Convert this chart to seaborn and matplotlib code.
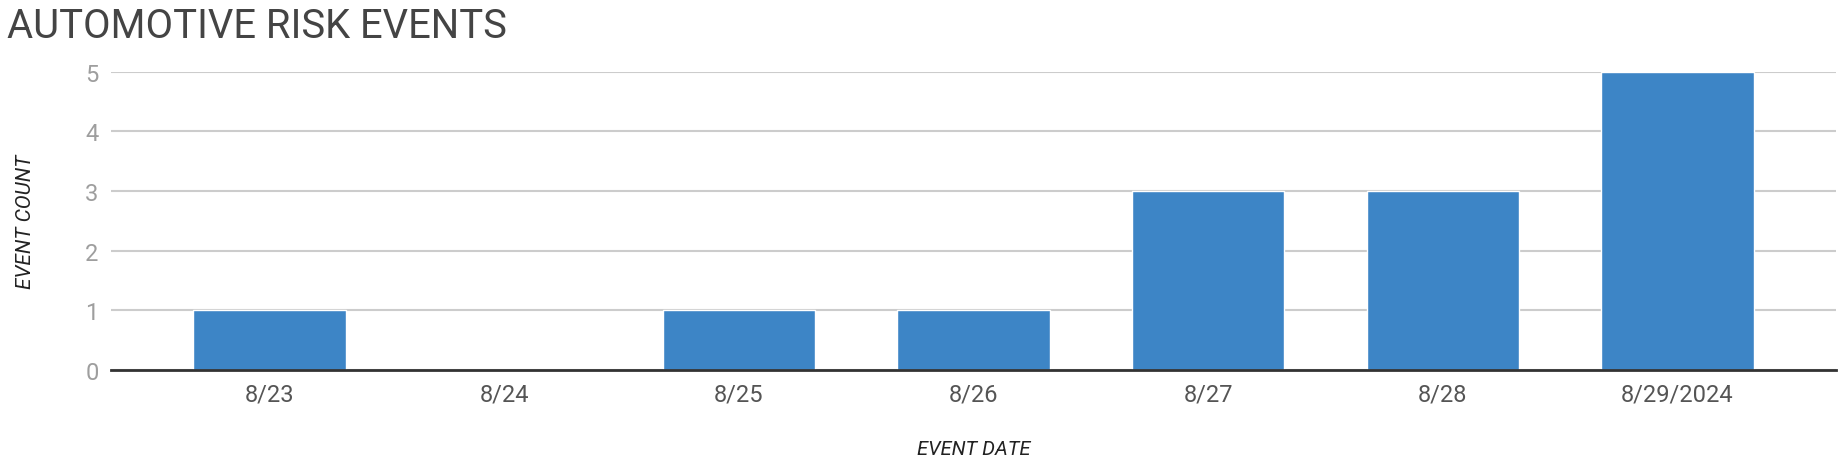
import matplotlib
matplotlib.use("Agg")
import matplotlib.pyplot as plt
import seaborn as sns
import pandas as pd

# chart data
event_dates = ['8/23', '8/24', '8/25', '8/26', '8/27', '8/28', '8/29/2024']
event_counts = [1, 0, 1, 1, 3, 3, 5]

df = pd.DataFrame({'date': event_dates, 'count': event_counts})

sns.set_theme(style="white")
plt.rcParams['font.family'] = ['Roboto', 'DejaVu Sans']

fig = plt.figure(figsize=(18.42, 4.64), dpi=100)
ax = fig.add_axes([0.0603, 0.201, 0.9364, 0.642])

sns.barplot(data=df, x='date', y='count', color='#3d85c6', saturation=1,
            width=0.65, ax=ax, zorder=3)

ax.set_ylim(0, 5)
ax.set_xlim(-0.675, 6.675)
ax.set_yticks([0, 1, 2, 3, 4, 5])
ax.yaxis.grid(True, color='#cccccc', linewidth=1.5, zorder=0)
ax.set_axisbelow(True)
for s in ['top', 'right', 'left']:
    ax.spines[s].set_visible(False)
ax.spines['bottom'].set_color('#333333')
ax.spines['bottom'].set_linewidth(2)
ax.spines['bottom'].set_zorder(4)

ax.tick_params(axis='y', length=0, pad=9, labelsize=17, labelcolor='#9e9e9e')
ax.tick_params(axis='x', length=0, pad=9, labelsize=17, labelcolor='#555555')

ax.set_xlabel('EVENT DATE', fontsize=14.5, fontstyle='italic', color='#222222', labelpad=24)
ax.set_ylabel('EVENT COUNT', fontsize=15, fontstyle='italic', color='#222222', labelpad=36)

fig.text(0.004, 0.985, 'AUTOMOTIVE RISK EVENTS', fontsize=28.8, color='#444444',
         ha='left', va='top')

fig.savefig('out.png', dpi=100)
